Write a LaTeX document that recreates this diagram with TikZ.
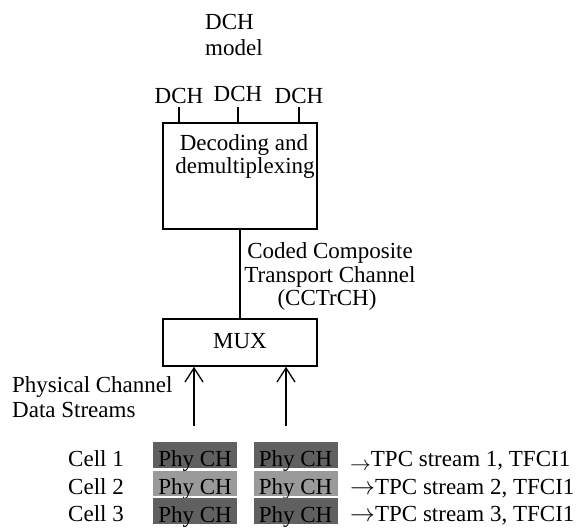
\documentclass[tikz,border=0pt]{standalone}
\usepackage{fontspec}
\setmainfont{Liberation Serif}
\usetikzlibrary{arrows.meta}
\definecolor{darkcell}{RGB}{96,96,96}
\definecolor{lightcell}{RGB}{154,154,154}
\begin{document}
\begin{tikzpicture}[x=1pt,y=-1pt,
  txt/.style={inner sep=0pt, anchor=base, font=\fontsize{23}{25}\selectfont},
  txtw/.style={txt, anchor=base west},
  blk/.style={draw, line width=1.6pt, inner sep=0pt},
  wire/.style={line width=1.3pt},
  arr/.style={wire, -{Straight Barb[length=14pt,width=18pt,line width=1.3pt]}},
  phy/.style={inner sep=0pt, minimum width=84pt, font=\fontsize{23}{25}\selectfont,
              text height=22pt, text depth=0pt},
  darkphy/.style={phy, fill=darkcell, minimum height=26pt},
  lightphy/.style={phy, fill=lightcell, minimum height=25pt}]
\useasboundingbox (0,0) rectangle (576,530);

% title
\node[txtw] (t1) at (205,29) {DCH};
\node[txtw] (t2) at (205,55) {model};

% decoding box
\node[blk, minimum width=154pt, minimum height=106pt] (dec) at (240,176) {};
\node[txt] (dec1) at (244,150) {Decoding and};
\node[txt] (dec2) at (245,173) {demultiplexing};

% DCH inputs
\node[txt] (d1) at (179,103) {DCH};
\node[txt] (d2) at (238,101) {DCH};
\node[txt] (d3) at (299,103) {DCH};
\draw[wire] ([yshift=-4pt]d1.south) -- (d1.south |- dec.north);
\draw[wire] ([yshift=-6pt]d2.south) -- (d2.south |- dec.north);
\draw[wire] ([yshift=-4pt]d3.south) -- (d3.south |- dec.north);

% MUX
\node[blk, minimum width=154pt, minimum height=47pt, font=\fontsize{23}{25}\selectfont,
      text height=15.5pt, text depth=3pt] (mux) at (240,342.5) {MUX};
\draw[wire] (dec.south) -- (mux.north);

% CCTrCH label
\node[txt] (cc1) at (330,258) {Coded Composite};
\node[txt] (cc2) at (330,282) {Transport Channel};
\node[txt] (cc3) at (327,305) {(CCTrCH)};

% physical channel label
\node[txtw] (pc1) at (12,392) {Physical Channel};
\node[txtw] (pc2) at (12,417) {Data Streams};

% arrows into MUX
\coordinate (a1) at (194,426);
\coordinate (a2) at (286,426);
\draw[arr] (a1) -- (a1 |- mux.south);
\draw[arr] (a2) -- (a2 |- mux.south);

% Phy CH rows
\node[darkphy]  (p11) at (195,455)   {Phy CH};
\node[darkphy]  (p12) at (295.5,455) {Phy CH};
\node[lightphy] (p21) at (195,483.5)   {Phy CH};
\node[lightphy] (p22) at (295.5,483.5) {Phy CH};
\node[darkphy]  (p31) at (195,511)   {Phy CH};
\node[darkphy]  (p32) at (295.5,511) {Phy CH};

% cell labels
\node[txtw] (c1) at (68,466) {Cell 1};
\node[txtw] (c2) at (68,494) {Cell 2};
\node[txtw] (c3) at (68,521) {Cell 3};

% TPC streams
\node[txtw] (s1) at (350,466) {\raisebox{-4pt}{\fontsize{21}{21}\selectfont$\rightarrow$}TPC stream 1, TFCI1};
\node[txtw] (s2) at (350,494) {$\rightarrow$TPC stream 2, TFCI1};
\node[txtw] (s3) at (350,521) {$\rightarrow$TPC stream 3, TFCI1};
\end{tikzpicture}
\end{document}
